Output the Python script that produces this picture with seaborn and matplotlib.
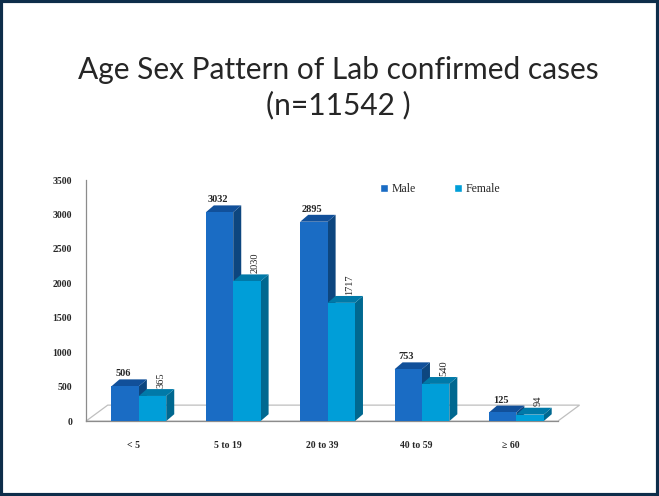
import numpy as np
import pandas as pd
import matplotlib
matplotlib.use("Agg")
import matplotlib.pyplot as plt
import seaborn as sns
from matplotlib.patches import Polygon, Rectangle

age_groups = ["< 5", "5 to 19", "20 to 39", "40 to 59", "\u2265 60"]
male = [506, 3032, 2895, 753, 125]
female = [365, 2030, 1717, 540, 94]
y_ticks = [0, 500, 1000, 1500, 2000, 2500, 3000, 3500]

df = pd.DataFrame({
    "Age": age_groups * 2,
    "Sex": ["Male"] * len(age_groups) + ["Female"] * len(age_groups),
    "Cases": male + female,
})

sns.set_style("white")
plt.rcParams["font.family"] = ["Liberation Serif", "DejaVu Serif"]

front = {"Male": "#1a6cc4", "Female": "#009ed8"}
side = {"Male": "#0d467f", "Female": "#006890"}
top = {"Male": "#11509a", "Female": "#0079a8"}
layer = {"Male": 2.5, "Female": 3.5}

fig = plt.figure(figsize=(6.59, 4.96), dpi=100)
ax = fig.add_axes([0.1305, 0.151, 0.716, 0.486])

sns.barplot(data=df, x="Age", y="Cases", hue="Sex", palette=front,
            width=0.58, saturation=1, linewidth=0, ax=ax, legend=False)

ax.set_xlim(-0.5, 4.5)
ax.set_ylim(0, 3500)

# fake 3D depth, taken from the bars seaborn drew
dx, dy = 0.085, 100
for cont, sex in zip(ax.containers, ["Male", "Female"]):
    for bar in cont:
        bar.set_x(bar.get_x() + 0.06)
        bar.set_zorder(layer[sex] + 0.1)
        x0, w, h = bar.get_x(), bar.get_width(), bar.get_height()
        ax.add_patch(Polygon([(x0 + w, 0), (x0 + w + dx, dy), (x0 + w + dx, h + dy), (x0 + w, h)],
                             closed=True, fc=side[sex], ec="none", zorder=layer[sex]))
        ax.add_patch(Polygon([(x0, h), (x0 + dx, h + dy), (x0 + w + dx, h + dy), (x0 + w, h)],
                             closed=True, fc=top[sex], ec="none", zorder=layer[sex]))
        if sex == "Male":
            ax.text(x0 + w / 2 - 0.02, h + dy + 15, f"{h:.0f}", ha="center", va="bottom",
                    fontsize=7.5, fontweight="bold", zorder=5)
        else:
            ax.text(x0 + w / 2 + dx, h + dy + 20, f"{h:.0f}", ha="center", va="bottom",
                    rotation=90, fontsize=7.5, zorder=5)

# floor
fx, fy = 0.23, 232
floor = Polygon([(-0.5, 0), (-0.5 + fx, fy), (4.5 + fx, fy), (4.5, 0)], closed=True,
                fc="white", ec="#bfbfbf", lw=0.9, zorder=1, clip_on=False)
ax.add_patch(floor)

for s in ["top", "right"]:
    ax.spines[s].set_visible(False)
for s in ["left", "bottom"]:
    ax.spines[s].set_color("#8c8c8c")
    ax.spines[s].set_linewidth(0.9)

ax.set_yticks(y_ticks)
ax.set_yticklabels([str(v) for v in y_ticks], fontsize=7, fontweight="bold")
ax.set_xticks(range(len(age_groups)))
ax.set_xticklabels(age_groups, fontsize=7, fontweight="bold")
ax.set_xticks(np.arange(-0.5, 5, 1), minor=True)
ax.tick_params(axis="x", which="major", length=0, pad=14)
ax.tick_params(axis="x", which="minor", length=5, color="#8c8c8c", direction="out")
ax.tick_params(axis="y", length=4, color="#8c8c8c", direction="out", pad=6)
ax.set_xlabel("")
ax.set_ylabel("")

handles = [Rectangle((0, 0), 1, 1, fc=front["Male"]), Rectangle((0, 0), 1, 1, fc=front["Female"])]
ax.legend(handles, ["Male", "Female"], loc="upper left", bbox_to_anchor=(0.6, 1.03), ncol=2,
          frameon=False, fontsize=8.5, handlelength=0.7, handleheight=0.7, handletextpad=0.3,
          columnspacing=3.2)

fig.text(0.513, 0.823, "Age Sex Pattern of Lab confirmed cases\n(n=11542 )", ha="center",
         va="center", fontsize=21.5, family=["Lato", "DejaVu Sans"], linespacing=1.25)

fig.patches.append(Rectangle((0.002, 0.003), 0.996, 0.994, transform=fig.transFigure,
                             fill=False, ec="#0d2d4a", lw=3))

fig.savefig("out.png", dpi=100)
